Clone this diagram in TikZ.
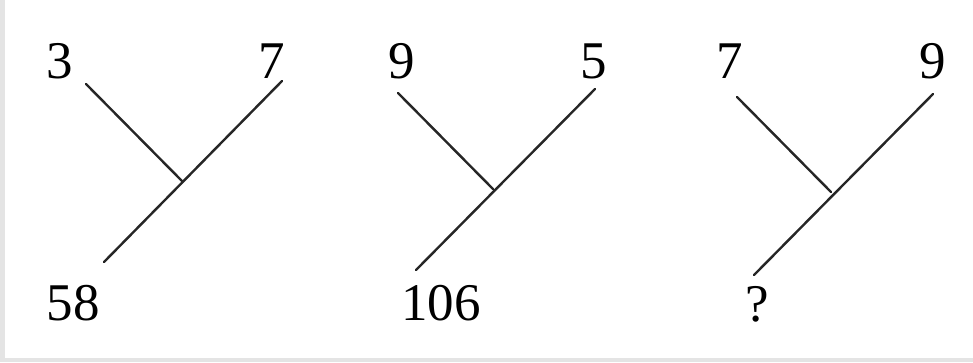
\documentclass[tikz,border=0pt]{standalone}
\usepackage{fontspec}
\setmainfont{Liberation Serif}
\definecolor{framegray}{RGB}{228,228,228}
\begin{document}
\begin{tikzpicture}[x=1pt,y=-1pt,
  num/.style={inner sep=0pt,font=\fontsize{53}{56}\selectfont},
  branch/.style={line width=2.4pt,black!85,line cap=round}]
\useasboundingbox (0,0) rectangle (973,362);
\fill[white] (0,0) rectangle (973,362);
\fill[framegray] (0,0) rectangle (4.5,362);
\fill[framegray] (0,358) rectangle (973,362);
% panel 1
\node[num] (a1) at (60,61) {3};
\node[num] (b1) at (272,61) {7};
\node[num] (c1) at (73,303) {58};
\coordinate (a1e) at (86,84);
\coordinate (b1e) at (282,81);
\coordinate (j1) at (182,181);
\coordinate (c1e) at (104,262);
\draw[branch] (a1e) -- (j1);
\draw[branch] (b1e) -- (c1e);
% panel 2
\node[num] (a2) at (402,61) {9};
\node[num] (b2) at (594,61) {5};
\node[num] (c2) at (441,303) {106};
\coordinate (a2e) at (398,93);
\coordinate (b2e) at (595,89);
\coordinate (j2) at (493,189);
\coordinate (c2e) at (416,270);
\draw[branch] (a2e) -- (j2);
\draw[branch] (b2e) -- (c2e);
% panel 3
\node[num] (a3) at (730,61) {7};
\node[num] (b3) at (933,61) {9};
\node[num] (c3) at (757,304) {?};
\coordinate (a3e) at (737,97);
\coordinate (b3e) at (933,94);
\coordinate (j3) at (831,192);
\coordinate (c3e) at (754,275);
\draw[branch] (a3e) -- (j3);
\draw[branch] (b3e) -- (c3e);
\end{tikzpicture}
\end{document}
